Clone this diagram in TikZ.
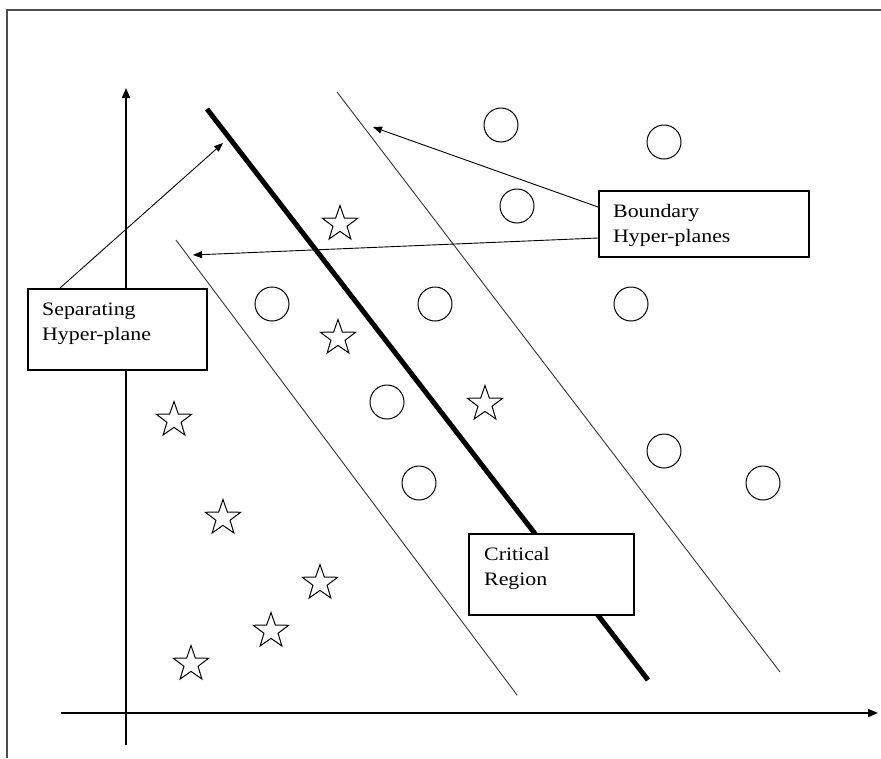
\documentclass[tikz,border=0pt]{standalone}
\usepackage{fontspec}
\setmainfont{Liberation Serif}[FakeStretch=1.15]
\usetikzlibrary{arrows.meta,shapes.geometric,calc}
\begin{document}
\begin{tikzpicture}[x=1pt,y=-1pt,
  frameline/.style={draw=gray!60!black,line width=1.3pt},
  axis/.style={line width=1.8pt,-{Triangle[length=10pt,width=8pt]}},
  sepline/.style={line width=5pt},
  bound/.style={line width=0.9pt, draw=black!80},
  ptr/.style={line width=0.9pt, -{Triangle[length=9pt,width=7pt]}},
  box/.style={draw, line width=1.6pt, fill=white, rectangle, inner sep=0, anchor=north west},
  txt/.style={anchor=base west, inner sep=0, font=\fontsize{19}{24}\selectfont},
  circ/.style={circle, draw, line width=1pt, minimum size=34pt, inner sep=0},
  st/.style={star, star points=5, star point ratio=2.5, draw, line width=1pt, minimum size=37pt, inner sep=0},
]
\useasboundingbox (0,0) rectangle (881,758);
% frame
\coordinate (f1) at (881,10);
\coordinate (f2) at (7,10);
\coordinate (f3) at (7,758);
\draw[frameline] (f1) -- (f2) -- (f3);
% axes
\coordinate (yb) at (126,745);
\coordinate (yt) at (126,88);
\coordinate (xl) at (61,713);
\coordinate (xr) at (878,713);
\draw[axis] (yb) -- (yt);
\draw[axis] (xl) -- (xr);
% hyperplanes
\coordinate (s1) at (207,109);
\coordinate (s2) at (648,680);
\coordinate (u1) at (337,92);
\coordinate (u2) at (780,672);
\coordinate (l1) at (176,240);
\coordinate (l2) at (517,695);
\draw[bound] (u1) -- (u2);
\draw[bound] (l1) -- (l2);
\draw[sepline] (s1) -- (s2);
% circles
\node[circ] (c1) at (501,125) {};
\node[circ] (c2) at (664,142) {};
\node[circ] (c3) at (517,206) {};
\node[circ] (c4) at (272,304) {};
\node[circ] (c5) at (435,304) {};
\node[circ] (c6) at (631,304) {};
\node[circ] (c7) at (387,402) {};
\node[circ] (c8) at (664,451) {};
\node[circ] (c9) at (419,483) {};
\node[circ] (c10) at (763,483) {};
% stars
\node[st] (t1) at (340,224) {};
\node[st] (t2) at (338,338) {};
\node[st] (t3) at (174,420) {};
\node[st] (t4) at (485,404) {};
\node[st] (t5) at (223,518) {};
\node[st] (t6) at (320,583) {};
\node[st] (t7) at (271,631) {};
\node[st] (t8) at (191,664) {};
% boxes
\node[box, minimum width=179pt, minimum height=81pt] (sepbox) at (27,288) {};
\node[txt] (sept1) at ($(sepbox.north west)+(15,27)$) {Separating};
\node[txt] (sept2) at ($(sepbox.north west)+(15,52)$) {Hyper-plane};
\node[box, minimum width=210pt, minimum height=66pt] (bndbox) at (598,190) {};
\node[txt] (bndt1) at ($(bndbox.north west)+(15,27)$) {Boundary};
\node[txt] (bndt2) at ($(bndbox.north west)+(15,52)$) {Hyper-planes};
\node[box, minimum width=165pt, minimum height=81pt] (critbox) at (468,533) {};
\node[txt] (critt1) at ($(critbox.north west)+(16,27)$) {Critical};
\node[txt] (critt2) at ($(critbox.north west)+(16,52)$) {Region};
% pointers
\coordinate (p1s) at ($(bndbox.north west)+(0,17)$);
\coordinate (p1e) at (373,127);
\coordinate (p2s) at ($(bndbox.north west)+(0,48)$);
\coordinate (p2e) at (193,255);
\coordinate (p3s) at ($(sepbox.north west)+(33,0)$);
\coordinate (p3e) at (223,143);
\draw[ptr] (p1s) -- (p1e);
\draw[ptr] (p2s) -- (p2e);
\draw[ptr] (p3s) -- (p3e);
\end{tikzpicture}
\end{document}
